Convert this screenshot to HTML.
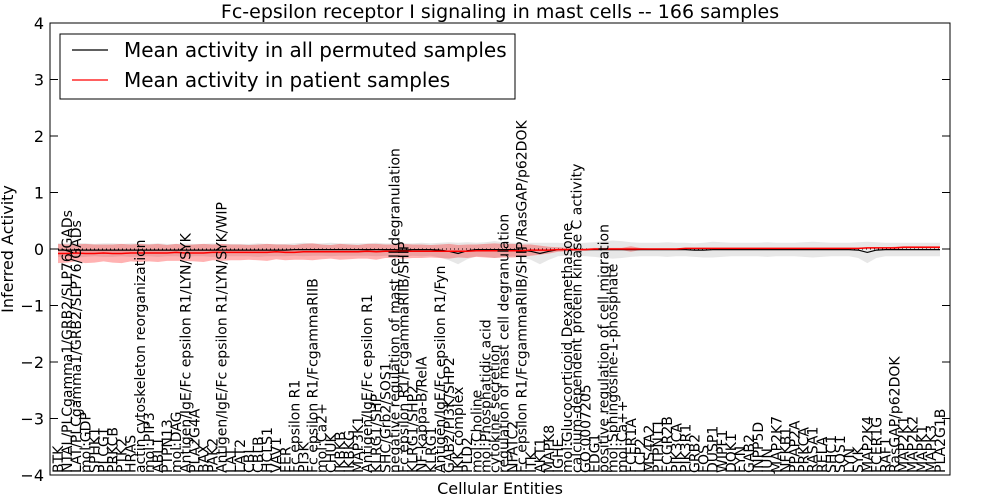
<!DOCTYPE html>
<html><head><meta charset="utf-8"><style>
body{margin:0;background:#fff;}
svg{display:block;font-family:"DejaVu Sans","Liberation Sans",sans-serif;}
</style></head><body>
<svg id="chart" width="1000" height="500" viewBox="0 0 1000 500">
<rect width="1000" height="500" fill="#fff"/>
<text x="500" y="18" text-anchor="middle" font-size="19">Fc-epsilon receptor I signaling in mast cells -- 166 samples</text>
<g id="bands"></g>
<g id="lines"></g>
<g id="xlabels"></g>
<g id="yaxis"></g>
<rect x="50" y="23" width="900" height="452" fill="none" stroke="#000" stroke-width="1"/>
<text x="500" y="494" text-anchor="middle" font-size="16">Cellular Entities</text>
<text transform="translate(13,249) rotate(-90)" text-anchor="middle" font-size="16">Inferred Activity</text>
<g>
<rect x="60" y="34" width="455" height="65" fill="#fff" stroke="#000" stroke-width="1"/>
<line x1="72" y1="50" x2="108" y2="50" stroke="#000" stroke-width="1.3"/>
<text x="124" y="57" font-size="20">Mean activity in all permuted samples</text>
<line x1="72" y1="80" x2="108" y2="80" stroke="#f00" stroke-width="1.3"/>
<text x="124" y="87" font-size="20">Mean activity in patient samples</text>
</g>
</svg>
<script>
const categories=["BTK","NTAL/PLCgamma1/GRB2/SLP76/GADs","LAT/PLCgamma1/GRB2/SLP76/GADs","mol:GDP","SPHK1","PLCG1","PRKCB","PTK2","HRAS","actin cytoskeleton reorganization","mol:PIP3","ABL1","PTPN13","mol:DAG","Antigen/IgE/Fc epsilon R1/LYN/SYK","PLA2G4A","BAX","PAK2","Antigen/IgE/Fc epsilon R1/LYN/SYK/WIP","LAT","LAT2","CBL","CBLB","HCLS1","VAV1","FER","Fc epsilon R1","PI3K","Fc epsilon R1/FcgammaRIIB","mol:Ca2+","CHUK","IKBKB","IKBKG","MAP3K1","Antigen/IgE/Fc epsilon R1","KLRG1/SHP","SHC/Grb2/SOS1","negative regulation of mast cell degranulation","Fc epsilon R1/FcgammaRIIB/SHIP","KLRG1/SHP2","NF-kappa-B/RelA","KLRG1","Antigen/IgE/Fc epsilon R1/Fyn","GAB2/PI3K/SHP2","IKK complex","PLD2","mol:Choline","mol:Phosphatidic acid","cytokine secretion","regulation of mast cell degranulation","NFATC2","Fc epsilon R1/FcgammaRIIB/SHIP/RasGAP/p62DOK","ITK","AKT1","MAPK8","IGHE","mol:Glucocorticoid Dexamethasone","calcium-dependent protein kinase C activity","GO:0007205","EDG1","positive regulation of cell migration","mol:Sphingosine-1-phosphate","mol:Ca++","FCER1A","LCP2","MS4A2","PTPN11","FCGR2B","PIK3CA","PIK3R1","GRB2","FOS","DUSP1","WIPF1","DOK1","FYN","GAB2","INPP5D","JUN","MAP2K7","NFKB1","PPAP2A","PRKCA","RASA1","RELA","SHC1","SOS1","LYN","SYK","MAP2K4","FCER1G","RAF1","RasGAP/p62DOK","MAP2K1","MAP2K2","MAPK1","MAPK3","PLA2G1B"];
const patientMean=[-0.08,-0.08,-0.07,-0.08,-0.08,-0.07,-0.08,-0.08,-0.07,-0.07,
-0.07,-0.07,-0.07,-0.06,-0.07,-0.07,-0.07,-0.06,-0.06,-0.06,
-0.06,-0.06,-0.06,-0.06,-0.05,-0.06,-0.06,-0.05,-0.05,-0.05,
-0.05,-0.05,-0.05,-0.05,-0.04,-0.05,-0.04,-0.04,-0.04,-0.04,
-0.04,-0.04,-0.04,-0.04,-0.04,-0.04,-0.03,-0.03,-0.03,-0.03,
-0.03,-0.03,-0.02,-0.02,-0.02,-0.01,-0.01,-0.01,-0.01,0.00,
0.00,0.00,0.00,0.00,0.00,0.00,0.00,0.00,0.00,0.01,
0.01,0.01,0.01,0.01,0.01,0.01,0.01,0.01,0.01,0.01,
0.01,0.01,0.01,0.01,0.01,0.01,0.01,0.01,0.01,0.02,
0.02,0.02,0.02,0.03,0.03,0.03,0.03,0.03];
const patientSpread=[0.17,0.16,0.15,0.17,0.16,0.15,0.16,0.17,0.15,0.16,
0.15,0.16,0.14,0.15,0.14,0.15,0.16,0.14,0.15,0.14,
0.14,0.13,0.14,0.15,0.13,0.14,0.13,0.14,0.15,0.13,
0.12,0.14,0.13,0.12,0.13,0.14,0.12,0.12,0.13,0.12,
0.12,0.11,0.12,0.13,0.11,0.12,0.11,0.12,0.13,0.12,
0.12,0.11,0.10,0.08,0.06,0.04,0.03,0.02,0.02,0.02,
0.02,0.02,0.02,0.05,0.02,0.01,0.01,0.01,0.01,0.01,
0.01,0.01,0.01,0.01,0.01,0.01,0.01,0.01,0.01,0.01,
0.01,0.01,0.01,0.01,0.01,0.01,0.01,0.01,0.01,0.01,
0.01,0.01,0.02,0.02,0.02,0.02,0.02,0.02];
const permutedMean=[-0.02,-0.02,-0.02,-0.02,-0.02,-0.02,-0.02,-0.02,-0.02,-0.02,
-0.02,-0.02,-0.02,-0.02,-0.02,-0.02,-0.02,-0.02,-0.02,-0.02,
-0.02,-0.02,-0.02,-0.02,-0.02,-0.02,-0.01,-0.01,-0.01,-0.01,
-0.01,-0.01,-0.01,-0.01,-0.01,-0.01,-0.01,-0.01,-0.02,-0.01,
-0.01,-0.01,-0.02,-0.04,-0.08,-0.03,-0.01,-0.01,-0.01,-0.01,
-0.01,-0.02,-0.04,-0.08,-0.04,-0.01,-0.01,-0.01,-0.01,-0.01,
-0.01,-0.01,-0.01,-0.01,-0.01,-0.01,-0.01,-0.01,-0.01,-0.01,
-0.02,-0.02,-0.01,-0.01,-0.01,-0.01,-0.01,-0.01,-0.01,-0.01,
-0.01,-0.01,-0.01,-0.01,-0.01,-0.01,-0.01,-0.01,-0.02,-0.06,
-0.02,-0.01,-0.01,-0.01,-0.01,-0.01,-0.01,-0.01];
const permutedSpread=[0.12,0.12,0.13,0.12,0.11,0.12,0.12,0.11,0.12,0.12,
0.11,0.12,0.11,0.11,0.12,0.11,0.11,0.12,0.11,0.11,
0.11,0.11,0.12,0.11,0.11,0.11,0.11,0.12,0.11,0.11,
0.12,0.11,0.11,0.11,0.11,0.12,0.11,0.11,0.12,0.11,
0.12,0.11,0.13,0.16,0.19,0.15,0.12,0.13,0.15,0.13,
0.12,0.13,0.15,0.19,0.15,0.12,0.11,0.11,0.12,0.13,
0.15,0.16,0.15,0.13,0.12,0.12,0.12,0.13,0.12,0.12,
0.12,0.13,0.14,0.13,0.12,0.12,0.12,0.12,0.13,0.12,
0.12,0.12,0.13,0.14,0.13,0.12,0.12,0.12,0.14,0.19,
0.14,0.12,0.12,0.12,0.12,0.12,0.12,0.12];
const yTicks=[-4,-3,-2,-1,0,1,2,3,4];

const NS='http://www.w3.org/2000/svg';
const X0=58,X1=940,YTOP=23,YBOT=475,YMIN=-4,YMAX=4;
function xPos(i){return X0+i*(X1-X0)/(categories.length-1);}
function yPos(v){return YBOT-(v-YMIN)/(YMAX-YMIN)*(YBOT-YTOP);}
function mk(tag,attrs,parent){const e=document.createElementNS(NS,tag);for(const k in attrs)e.setAttribute(k,attrs[k]);parent.appendChild(e);return e;}
function bandPath(mean,spread){let up=[],dn=[];for(let i=0;i<mean.length;i++){up.push(xPos(i).toFixed(1)+','+yPos(mean[i]+spread[i]).toFixed(1));dn.unshift(xPos(i).toFixed(1)+','+yPos(mean[i]-spread[i]).toFixed(1));}return 'M'+up.join('L')+'L'+dn.join('L')+'Z';}
function linePath(mean){return 'M'+mean.map((v,i)=>xPos(i).toFixed(1)+','+yPos(v).toFixed(1)).join('L');}

const bands=document.getElementById('bands');
const gb=mk('path',{d:bandPath(permutedMean,permutedSpread),fill:'#d3d3d3','fill-opacity':'0.55',stroke:'none'},bands);


const rb=mk('path',{d:bandPath(patientMean,patientSpread),fill:'#f00','fill-opacity':'0.3',stroke:'none'},bands);



const lines=document.getElementById('lines');
const zl=mk('line',{x1:50,x2:950,y1:yPos(0),y2:yPos(0),stroke:'#000','stroke-width':1,'stroke-dasharray':'1,3'},lines);


const bl=mk('path',{d:linePath(permutedMean),fill:'none',stroke:'#000','stroke-width':1.2},lines);


const rl=mk('path',{d:linePath(patientMean),fill:'none',stroke:'#f00','stroke-width':1.5},lines);



const xl=document.getElementById('xlabels');
categories.forEach((c,i)=>{
  const x=xPos(i)+5;
  const t=mk('text',{transform:'translate('+x.toFixed(1)+',473) rotate(-90)','font-size':'14'},xl);
  t.textContent=c;
  
  
});

const ya=document.getElementById('yaxis');
yTicks.forEach(v=>{
  const y=yPos(v);
  const t1=mk('line',{x1:50,x2:58,y1:y,y2:y,stroke:'#000'},ya);
  
  
  const t2=mk('line',{x1:942,x2:950,y1:y,y2:y,stroke:'#000'},ya);
  
  
  const lb=mk('text',{x:44,y:y+6,'text-anchor':'end','font-size':'16'},ya);
  lb.textContent=(v<0?'\u2212'+Math.abs(v):String(v));
  
  
});
</script>
</body></html>
